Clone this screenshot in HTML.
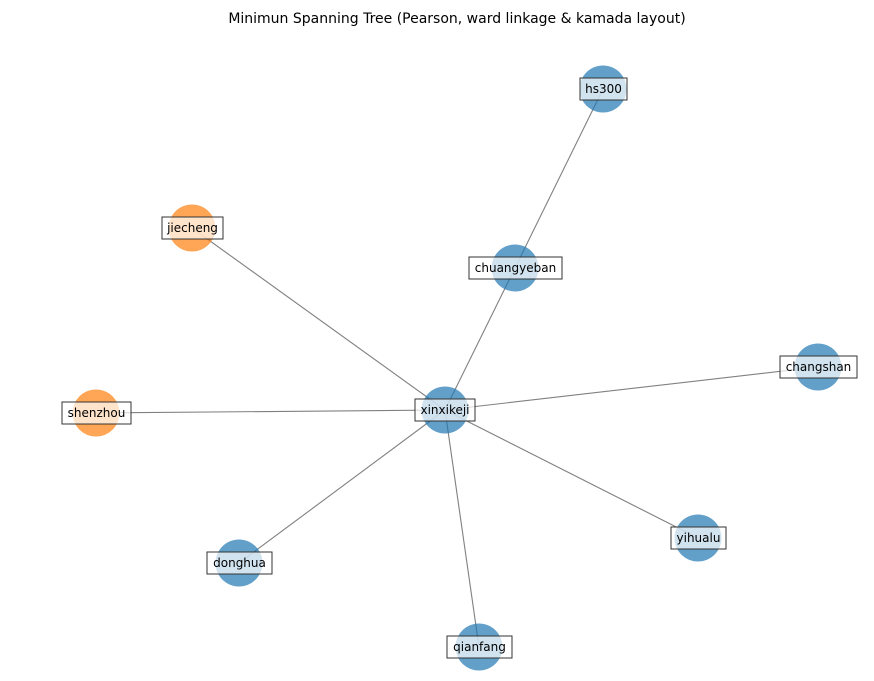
<!DOCTYPE html>
<html><head><style>body{margin:0;background:#fff}</style></head><body>
<svg width="874" height="676" xmlns="http://www.w3.org/2000/svg" font-family="DejaVu Sans, Liberation Sans, sans-serif">
<rect width="874" height="676" fill="#fff"/>
<text x="457" y="23" font-size="14" text-anchor="middle" fill="#000">Minimun Spanning Tree (Pearson, ward linkage &amp; kamada layout)</text>
<g stroke="#808080" stroke-width="1.1">
<line x1="603" y1="89" x2="515" y2="268"/>
<line x1="445" y1="410" x2="515" y2="268"/>
<line x1="445" y1="410" x2="192" y2="228"/>
<line x1="445" y1="410" x2="818" y2="367"/>
<line x1="445" y1="410" x2="96" y2="413"/>
<line x1="445" y1="410" x2="239" y2="563"/>
<line x1="445" y1="410" x2="698" y2="538"/>
<line x1="445" y1="410" x2="479" y2="647"/>
</g>
<g fill="#1f77b4" fill-opacity="0.7">
<circle cx="603" cy="89" r="23.5"/>
<circle cx="515" cy="268" r="23.5"/>
<circle cx="818" cy="367" r="23.5"/>
<circle cx="445" cy="410" r="23.5"/>
<circle cx="239" cy="563" r="23.5"/>
<circle cx="698" cy="538" r="23.5"/>
<circle cx="479" cy="647" r="23.5"/>
</g>
<g fill="#ff7f0e" fill-opacity="0.7">
<circle cx="192" cy="228" r="23.5"/>
<circle cx="96" cy="413" r="23.5"/>
</g>
<g fill="#fff" fill-opacity="0.7" stroke="#333" stroke-width="1">
<rect x="580" y="78" width="47" height="22"/>
<rect x="469" y="257" width="93" height="22"/>
<rect x="780" y="356" width="77" height="22"/>
<rect x="415" y="399" width="60" height="22"/>
<rect x="207" y="552" width="65" height="22"/>
<rect x="671" y="527" width="55" height="22"/>
<rect x="447" y="636" width="65" height="22"/>
<rect x="162" y="217" width="61" height="22"/>
<rect x="62" y="402" width="69" height="22"/>
</g>
<g font-size="12" text-anchor="middle" fill="#000">
<text x="603.5" y="93">hs300</text>
<text x="515.5" y="272">chuangyeban</text>
<text x="818.5" y="371">changshan</text>
<text x="445" y="414">xinxikeji</text>
<text x="239.5" y="567">donghua</text>
<text x="698.5" y="542">yihualu</text>
<text x="479.5" y="651">qianfang</text>
<text x="192.5" y="232">jiecheng</text>
<text x="96.5" y="417">shenzhou</text>
</g>
</svg>
</body></html>
